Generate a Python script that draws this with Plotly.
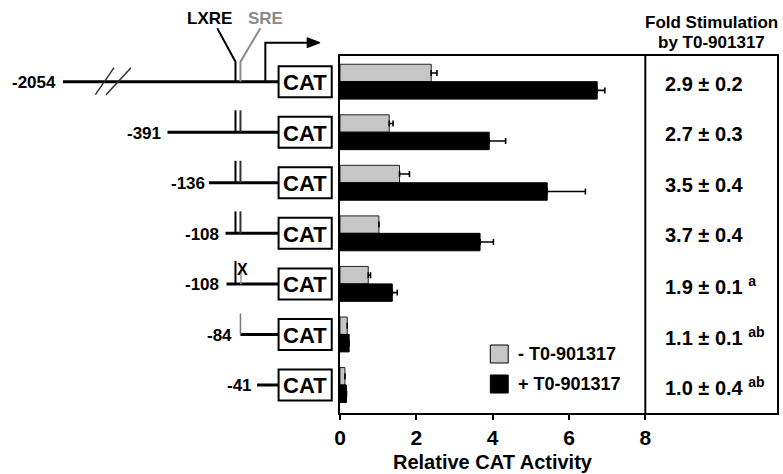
import plotly.graph_objects as go

# ---------------- data ----------------
constructs = ["-2054", "-391", "-136", "-108", "-108", "-84", "-41"]
minus_t0 = [2.39, 1.29, 1.56, 1.02, 0.74, 0.19, 0.13]
minus_t0_err = [0.15, 0.10, 0.26, None, 0.06, None, None]
plus_t0 = [6.74, 3.91, 5.43, 3.67, 1.37, 0.24, 0.17]
plus_t0_err = [0.20, 0.43, 1.00, 0.35, 0.13, None, None]
fold_text = ["2.9 ± 0.2", "2.7 ± 0.3", "3.5 ± 0.4", "3.7 ± 0.4",
             "1.9 ± 0.1", "1.1 ± 0.1", "1.0 ± 0.4"]
fold_sup = ["", "", "", "", "a", "ab", "ab"]
x_ticks = [0, 2, 4, 6, 8]
legend_labels = ["- T0-901317", "+ T0-901317"]

# ---------------- layout geometry ----------------
W, H = 783, 474
ML, MR, MT, MB = 340, 4, 56, 61
PW, PH = W - ML - MR, H - MT - MB
XMAX = 8 * PW / 306.7
Y_TOP, Y_BOT = -0.508, 6.554
PPR = PH / (Y_BOT - Y_TOP)
FONT = "Arial, 'Liberation Sans', Helvetica, sans-serif"
GRAY = "#c6c6c6"

rows = list(range(len(constructs)))


def X(px):
    return (px - ML) / PW


def PY(py):
    return (MT + PH - py) / PH


def Y(k, dpx=0.0):
    # paper y of row k, shifted by dpx pixels (positive = down)
    return PY(MT + (k - Y_TOP) * PPR + dpx)


fig = go.Figure()
fig.add_trace(go.Bar(
    y=rows, x=minus_t0, orientation="h", name=legend_labels[0],
    marker=dict(color=GRAY, line=dict(color="#222", width=1)),
    error_x=dict(type="data", symmetric=False, array=minus_t0_err,
                 arrayminus=[0] * len(rows), color="black", thickness=1.6, width=3),
))
fig.add_trace(go.Bar(
    y=rows, x=plus_t0, orientation="h", name=legend_labels[1],
    marker=dict(color="black", line=dict(color="black", width=1)),
    error_x=dict(type="data", symmetric=False, array=plus_t0_err,
                 arrayminus=[0] * len(rows), color="black", thickness=1.6, width=3),
))

shapes = []
annos = []


def T(text, x, y, size, anchor="center", color="black"):
    annos.append(dict(text=text, xref="paper", yref="paper", x=x, y=y, showarrow=False,
                      font=dict(size=size, family=FONT, color=color),
                      xanchor=anchor, yanchor="middle"))


def L(x0, y0, x1, y1, color="black", width=2):
    shapes.append(dict(type="line", xref="paper", yref="paper", x0=x0, x1=x1, y0=y0, y1=y1,
                       line=dict(color=color, width=width)))


def P(pts, color="black", width=2, fill=None):
    path = "M " + " L ".join("%f,%f" % p for p in pts)
    d = dict(type="path", xref="paper", yref="paper", line=dict(color=color, width=width))
    if fill:
        path += " Z"
        d["fillcolor"] = fill
    d["path"] = path
    shapes.append(d)


# divider at x=8
shapes.append(dict(type="line", xref="x", yref="paper", x0=8, x1=8, y0=0, y1=1,
                   line=dict(color="black", width=2)))

# x title
annos.append(dict(text="<b>Relative CAT Activity</b>", xref="x", yref="paper", x=4,
                  y=PY(461.7), showarrow=False, font=dict(size=20, family=FONT, color="black"),
                  xanchor="center", yanchor="middle"))

# header
T("<b>Fold Stimulation</b>", X(713), PY(22.7), 17)
T("<b>by T0-901317</b>", X(713), PY(43), 17)

# fold values
for k in rows:
    t = "<b>%s</b>" % fold_text[k]
    if fold_sup[k]:
        t += " <sup><b>%s</b></sup>" % fold_sup[k]
    T(t, X(664), Y(k, 2), 20, anchor="left")

# legend
for col, lab, cy in [(GRAY, legend_labels[0], 354), ("black", legend_labels[1], 384)]:
    shapes.append(dict(type="rect", xref="paper", yref="paper", x0=X(491), x1=X(509),
                       y0=PY(cy - 9), y1=PY(cy + 9), fillcolor=col,
                       line=dict(color="black", width=1)))
    T("<b>%s</b>" % lab, X(517), PY(cy), 18, anchor="left")

# ---------------- promoter schematic ----------------
line_start_px = [61.7, 166.7, 208.3, 225, 226, 240, 256.7]
label_right_px = [57, 161.7, 206.7, 220.7, 220.7, 233.3, 253.3]
BOX_L, BOX_R, BOX_HH = 278.3, 331.7, 15.5

for k in rows:
    L(X(line_start_px[k]), Y(k), X(BOX_L), Y(k), width=3)
    shapes.append(dict(type="rect", xref="paper", yref="paper", x0=X(BOX_L), x1=X(BOX_R),
                       y0=Y(k, -BOX_HH), y1=Y(k, BOX_HH), fillcolor="white",
                       line=dict(color="black", width=2)))
    T("<b>CAT</b>", X((BOX_L + BOX_R) / 2), Y(k, 1), 22)
    T("<b>%s</b>" % constructs[k], X(label_right_px[k]), Y(k, 1), 17, anchor="right")

# row 0 extras: LXRE / SRE fork, break mark, transcription arrow
P([(X(235), Y(0)), (X(235), Y(0, -20)), (X(216.7), Y(0, -53.5))], color="black", width=2)
P([(X(240), Y(0)), (X(240), Y(0, -20)), (X(260), Y(0, -53.5))], color="#8a8a8a", width=2)
T("<b>LXRE</b>", X(208.5), Y(0, -63.5), 17)
T("<b>SRE</b>", X(265), Y(0, -63.5), 17, color="#8a8a8a")
for (xa, xb) in [(94.3, 113), (105, 130)]:
    L(X(xa), Y(0, 13), X(xb), Y(0, -14), color="#333", width=1.5)
P([(X(265), Y(0)), (X(265), Y(0, -39)), (X(309), Y(0, -39))], color="black", width=2)
P([(X(307), Y(0, -44)), (X(320), Y(0, -39)), (X(307), Y(0, -34))], color="black", width=1,
  fill="black")

# rows 1-3: intact LXRE/SRE
for k in (1, 2, 3):
    L(X(235), Y(k), X(235), Y(k, -22), width=2)
    L(X(240), Y(k), X(240), Y(k, -22), color="#333", width=2)
# row 4: mutated element
L(X(235), Y(4), X(235), Y(4, -23), width=2)
L(X(240.5), Y(4), X(240.5), Y(4, -12), color="#999", width=1.5)
T("<b>X</b>", X(242.5), Y(4, -14), 16)
# row 5: remaining stub
L(X(240), Y(5), X(240), Y(5, -21), color="#777", width=1.5)

fig.update_layout(
    width=W, height=H,
    margin=dict(l=ML, r=MR, t=MT, b=MB, pad=0),
    plot_bgcolor="white", paper_bgcolor="white",
    barmode="group", bargap=0.31, bargroupgap=0,
    showlegend=False,
    shapes=shapes, annotations=annos,
    font=dict(family=FONT, color="black"),
    xaxis=dict(range=[0, XMAX], tickvals=x_ticks, ticktext=[str(v) for v in x_ticks],
               showgrid=False, zeroline=False, showline=True, mirror=True,
               linecolor="black", linewidth=2, ticks="outside", ticklen=5, tickwidth=2,
               tickcolor="black", tickfont=dict(size=21, family=FONT, color="black", weight="bold")),
    yaxis=dict(range=[Y_BOT, Y_TOP], showticklabels=False, showgrid=False, zeroline=False,
               showline=True, mirror=True, linecolor="black", linewidth=2, ticks=""),
)

fig.write_html("out.html", config={"displayModeBar": False},
               post_script="document.body.style.margin='0';document.body.style.overflow='hidden';")
